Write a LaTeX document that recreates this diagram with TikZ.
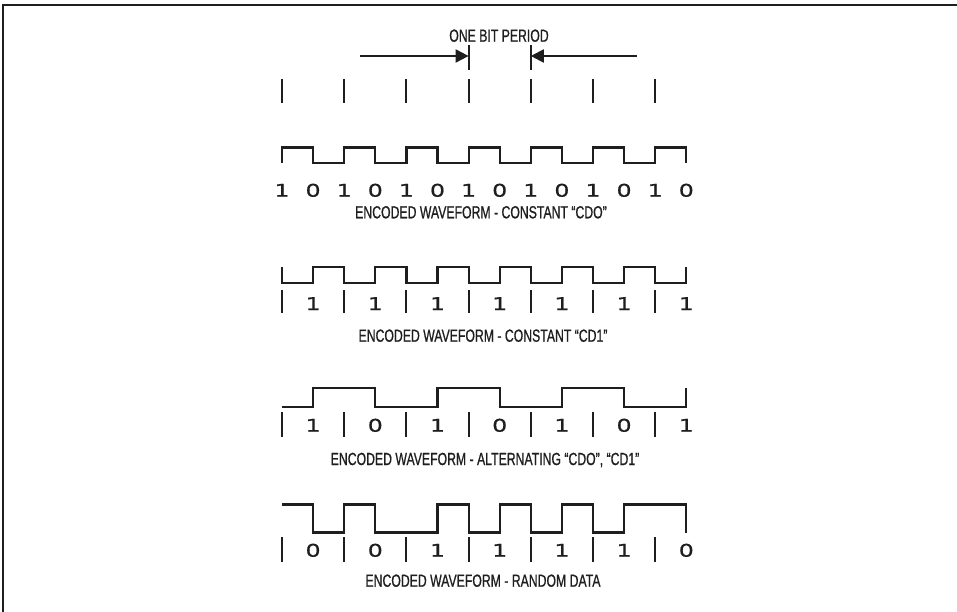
\documentclass[tikz,border=0pt]{standalone}
\usepackage{fontspec}
\setmainfont{Liberation Sans}
\newfontfamily\capfont[FakeBold=1]{Liberation Sans}
\newfontfamily\digitfont[FakeBold=0.6]{DejaVu Sans}
\usetikzlibrary{arrows.meta}
\newcommand\captxt[1]{\scalebox{0.70}[1]{#1}}
\newcommand\digtxt[1]{\scalebox{1.35}[1]{#1}}
\definecolor{ink}{HTML}{1E1E1E}
\tikzset{
  wave/.style={draw=ink, line width=2.2pt, line join=miter},
  tickbar/.style={draw=ink, line width=1.9pt},
  frameline/.style={draw=ink, line width=1.5pt},
  caption/.style={inner sep=0pt, anchor=base, text=ink, font=\capfont\fontsize{17.5}{17.5}\selectfont},
  digit/.style={inner sep=0pt, anchor=base, text=ink, font=\digitfont\fontsize{17.5}{17.5}\selectfont},
  arrowline/.style={draw=ink, line width=2pt, -{Triangle[length=13pt,width=13pt]}}
}
\begin{document}
\begin{tikzpicture}[x=1pt,y=-1pt]
\useasboundingbox (0,0) rectangle (957,612);
% frame
\draw[frameline] (3,612) -- (3,5) -- (957,5);

% title and arrows
\node[caption] (title) at (499,41.7) {\captxt{ONE BIT PERIOD}};
\coordinate (ls) at (360,56);
\coordinate (lt) at (468.6,56);
\coordinate (rs) at (637,56);
\coordinate (rt) at (530.8,56);
\draw[arrowline] (ls) -- (lt);
\draw[arrowline] (rs) -- (rt);
\draw[tickbar] (468.6,45) -- (468.6,70);
\draw[tickbar] (530.8,45) -- (530.8,70);

% top ticks
\foreach \k in {0,...,6} {
  \coordinate (t\k) at ({282+62.2*\k},79);
  \draw[tickbar] (t\k) -- ++(0,24);
}

% wave 1: constant CD0
\draw[wave] (282,163)--(282,147.5)--(313.1,147.5)--(313.1,163)--(344.2,163)--(344.2,147.5)--(375.3,147.5)--(375.3,163)--(406.4,163)--(406.4,147.5)--(437.5,147.5)--(437.5,163)--(468.6,163)--(468.6,147.5)--(499.7,147.5)--(499.7,163)--(530.8,163)--(530.8,147.5)--(561.9,147.5)--(561.9,163)--(593,163)--(593,147.5)--(624.1,147.5)--(624.1,163)--(655.2,163)--(655.2,147.5)--(686.3,147.5)--(686.3,163);
\foreach \d [count=\k from 0] in {1,0,1,0,1,0,1,0,1,0,1,0,1,0}
  \node[digit] (a\k) at ({282+31.1*\k},196.7) {\digtxt{\d}};
\node[caption] (cap1) at (481,218.3) {\captxt{ENCODED WAVEFORM - CONSTANT “CDO”}};

% wave 2: constant CD1
\draw[wave] (282,267)--(282,283)--(313.1,283)--(313.1,267)--(344.2,267)--(344.2,283)--(375.3,283)--(375.3,267)--(406.4,267)--(406.4,283)--(437.5,283)--(437.5,267)--(468.6,267)--(468.6,283)--(499.7,283)--(499.7,267)--(530.8,267)--(530.8,283)--(561.9,283)--(561.9,267)--(593,267)--(593,283)--(624.1,283)--(624.1,267)--(655.2,267)--(655.2,283)--(686.3,283)--(686.3,267);
\foreach \k in {0,...,6}
  \draw[tickbar] ({282+62.2*\k},290) -- ++(0,23);
\foreach \d [count=\k from 0] in {1,1,1,1,1,1,1}
  \node[digit] (b\k) at ({313.1+62.2*\k},310) {\digtxt{\d}};
\node[caption] (cap2) at (483,341.7) {\captxt{ENCODED WAVEFORM - CONSTANT “CD1”}};

% wave 3: alternating
\draw[wave] (282,407)--(313.1,407)--(313.1,388)--(375.3,388)--(375.3,407)--(437.5,407)--(437.5,388)--(499.7,388)--(499.7,407)--(561.9,407)--(561.9,388)--(624.1,388)--(624.1,407)--(686.3,407)--(686.3,388);
\foreach \k in {0,...,6}
  \draw[tickbar] ({282+62.2*\k},412) -- ++(0,25);
\foreach \d [count=\k from 0] in {1,0,1,0,1,0,1}
  \node[digit] (c\k) at ({313.1+62.2*\k},431.7) {\digtxt{\d}};
\node[caption] (cap3) at (485,465) {\captxt{ENCODED WAVEFORM - ALTERNATING “CDO”, “CD1”}};

% wave 4: random data
\draw[wave] (282,504.5)--(313.1,504.5)--(313.1,532.5)--(344.2,532.5)--(344.2,504.5)--(375.3,504.5)--(375.3,532.5)--(437.5,532.5)--(437.5,504.5)--(468.6,504.5)--(468.6,532.5)--(499.7,532.5)--(499.7,504.5)--(530.8,504.5)--(530.8,532.5)--(561.9,532.5)--(561.9,504.5)--(593,504.5)--(593,532.5)--(624.1,532.5)--(624.1,504.5)--(686.3,504.5)--(686.3,532.5);
\foreach \k in {0,...,6}
  \draw[tickbar] ({282+62.2*\k},537) -- ++(0,25);
\foreach \d [count=\k from 0] in {0,0,1,1,1,1,0}
  \node[digit] (e\k) at ({313.1+62.2*\k},556.7) {\digtxt{\d}};
\node[caption] (cap4) at (483,586.7) {\captxt{ENCODED WAVEFORM - RANDOM DATA}};
\end{tikzpicture}
\end{document}
